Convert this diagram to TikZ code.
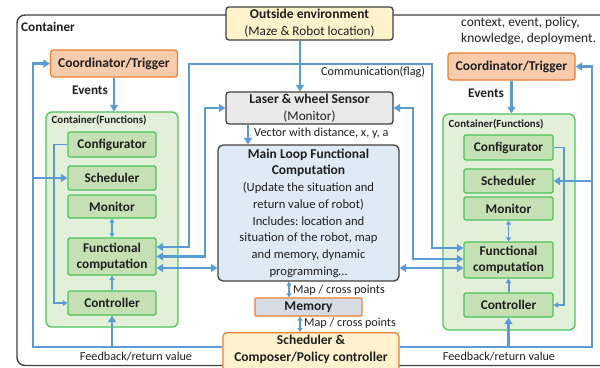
\documentclass[tikz,border=0pt]{standalone}
\usepackage{fontspec}
\setmainfont{Carlito}
\usetikzlibrary{arrows.meta,calc}
\frenchspacing
\definecolor{flowblue}{HTML}{5B9BD5}
\definecolor{darkline}{HTML}{404040}
\definecolor{orangefill}{HTML}{F8CBAD}
\definecolor{orangeline}{HTML}{ED7D31}
\definecolor{creamfill}{HTML}{FFF2CC}
\definecolor{grayfill}{HTML}{E9E9E9}
\definecolor{bluefill}{HTML}{DEEBF7}
\definecolor{memfill}{HTML}{D6DCE5}
\definecolor{greenline}{HTML}{4CC35A}
\definecolor{greenfill}{HTML}{E2F0D9}
\definecolor{greeninner}{HTML}{C5E0B4}
\newcommand{\bigbold}[1]{{\fontsize{13.5}{16.7}\selectfont\bfseries #1}}
\tikzset{
  flow/.style={draw=flowblue, line width=2.4pt},
  arr/.style={flow, -{Triangle[length=6.5pt,width=8pt]}},
  barr/.style={flow, {Triangle[length=6.5pt,width=8pt]}-{Triangle[length=6.5pt,width=8pt]}},
  thinarr/.style={draw=flowblue, line width=1.5pt, -{Triangle[length=4.5pt,width=5.5pt]}},
  thinbarr/.style={draw=flowblue, line width=1.5pt, {Triangle[length=4pt,width=5pt]}-{Triangle[length=4pt,width=5pt]}},
  boxbase/.style={rounded corners=3pt, line width=1.3pt, inner sep=0pt, align=center, text=black!88},
  envbox/.style={boxbase, draw=darkline, fill=creamfill, font=\fontsize{13.2}{17}\selectfont},
  sensorbox/.style={boxbase, draw=darkline, fill=grayfill, font=\fontsize{13.2}{17}\selectfont},
  mainbox/.style={boxbase, rounded corners=5pt, draw=darkline, fill=bluefill, font=\fontsize{12.6}{16.7}\selectfont},
  membox/.style={boxbase, rounded corners=1pt, draw=orangeline, fill=memfill, font=\bfseries\fontsize{13.5}{15}\selectfont},
  policybox/.style={boxbase, rounded corners=4pt, draw=orangeline, fill=creamfill},
  coordbox/.style={boxbase, draw=orangeline, fill=orangefill, font=\bfseries\fontsize{13.5}{15}\selectfont, minimum width=127pt, minimum height=27pt},
  funcbox/.style={boxbase, rounded corners=6pt, draw=greenline, fill=greenfill, minimum width=132pt},
  unitbox/.style={boxbase, rounded corners=1.5pt, draw=greenline, fill=greeninner, font=\bfseries\fontsize{13.3}{16}\selectfont, minimum width=88pt},
  note/.style={inner sep=0pt, text=black!88, font=\fontsize{12.2}{14}\selectfont},
  boldnote/.style={inner sep=0pt, text=black!88, font=\bfseries\fontsize{13.2}{15}\selectfont}
}
\begin{document}
\begin{tikzpicture}[x=1pt,y=-1pt]
\useasboundingbox (0,0) rectangle (600,367);
\clip (0,0) rectangle (600,367);
\fill[white] (0,0) rectangle (600,367);

% outer container frame
\draw[darkline, line width=1.4pt, rounded corners=8pt] (17,15) rectangle (640,365.5);
\node[boldnote, anchor=west] (ctitle) at (21,27) {Container};
\node[note, anchor=west, align=left, font=\fontsize{13.4}{16}\selectfont] (ctxt) at (461,31)
  {context, event, policy,\\knowledge, deployment.};

% central column
\node[envbox, minimum width=167pt, minimum height=33pt] (env) at (309.5,23.5)
  {\bigbold{Outside environment}\\(Maze \& Robot location)};
\node[sensorbox, minimum width=167pt, minimum height=32pt] (sensor) at (309.5,108)
  {\bigbold{Laser \& wheel Sensor}\\(Monitor)};
\node[mainbox, minimum width=181pt, minimum height=136pt] (main) at (308.5,213)
  {\bigbold{Main Loop Functional}\\\bigbold{Computation}\\(Update the situation and\\return value of robot)\\Includes: location and\\situation of the robot, map\\and memory, dynamic\\programming\dots};
\node[membox, minimum width=107pt, minimum height=18pt] (memory) at (308.5,307) {Memory};
\node[policybox, minimum width=176pt, minimum height=50pt, anchor=north] (policy) at (311,332) {};
\node[inner sep=0pt, align=center, text=black!88, font=\bfseries\fontsize{13.5}{17}\selectfont] (policytxt) at (311,349)
  {Scheduler \&\\Composer/Policy controller};

% left side
\node[coordbox] (lcoord) at (114,63.5) {Coordinator/Trigger};
\node[boldnote] (lev) at (90,90) {Events};
\node[funcbox, minimum height=215pt] (lcont) at (112,219.5) {};
\node[inner sep=0pt, anchor=west, text=black!88, font=\bfseries\fontsize{10.9}{12}\selectfont] (lconttitle) at (51.5,120) {Container(Functions)};
\node[unitbox, minimum height=25pt] (lconf) at (112,144.5) {Configurator};
\node[unitbox, minimum height=24pt] (lsch) at (112,178) {Scheduler};
\node[unitbox, minimum height=23pt] (lmon) at (112,206.5) {Monitor};
\node[unitbox, minimum height=37pt] (lfc) at (112,256.5) {Functional\\computation};
\node[unitbox, minimum height=24pt] (lctl) at (112,303) {Controller};

% right side
\node[coordbox] (rcoord) at (511.5,66.5) {Coordinator/Trigger};
\node[boldnote] (rev) at (486,93) {Events};
\node[funcbox, minimum height=216pt] (rcont) at (509,222) {};
\node[inner sep=0pt, anchor=west, text=black!88, font=\bfseries\fontsize{10.9}{12}\selectfont] (rconttitle) at (448.5,124) {Container(Functions)};
\node[unitbox, minimum width=89pt, minimum height=25pt] (rconf) at (508.5,147.5) {Configurator};
\node[unitbox, minimum width=89pt, minimum height=24pt] (rsch) at (508.5,181) {Scheduler};
\node[unitbox, minimum width=89pt, minimum height=23pt] (rmon) at (508.5,208.5) {Monitor};
\node[unitbox, minimum width=89pt, minimum height=36pt] (rfc) at (508.5,260) {Functional\\computation};
\node[unitbox, minimum width=89pt, minimum height=24pt] (rctl) at (508.5,305) {Controller};

% routing points
\coordinate (ea) at (300,0);
\coordinate (sa) at (248,0);
\coordinate (lb) at (33,347);
\coordinate (lt) at (33,63.5);
\coordinate (rb) at (592,347);
\coordinate (rt) at (592,66.5);
\coordinate (lcx) at (54,0);
\coordinate (rcx) at (564,0);
\coordinate (cl) at (189,64);
\coordinate (cr) at (432,64);
\coordinate (ls) at (205,108);
\coordinate (rs) at (413,108);
\coordinate (l1) at ([yshift=9.5pt]lfc.east);
\coordinate (l3) at ([yshift=-11.5pt]lfc.east);
\coordinate (r1) at ([yshift=12pt]rfc.west);
\coordinate (r2) at ([yshift=1pt]rfc.west);
\coordinate (r3) at ([yshift=-8pt]rfc.west);
\coordinate (ma) at (289,0);
\coordinate (pa) at (300,0);

% environment and sensing
\draw[arr] (ea |- env.south) -- (ea |- sensor.north);
\draw[arr] (sa |- sensor.south) -- (sa |- main.north);
\node[note, anchor=west] (vec) at (254,133.5) {Vector with distance, x, y, a};

% memory links
\draw[thinbarr] (ma |- main.south) -- (ma |- memory.north);
\node[note, anchor=west] (map1) at (293,290) {Map / cross points};
\draw[thinbarr] (pa |- memory.south) -- (pa |- policy.north);
\node[note, anchor=west] (map2) at (304,323) {Map / cross points};

% communication between the two containers
\draw[barr] (l1) -| (cl) -- (cr) |- (r1);
\node[note, anchor=west] (comm) at (321,72.5) {Communication(flag)};
\draw[barr] (lfc.east) -| (ls) -- (sensor.west);
\draw[barr] (sensor.east) -- (rs) |- (r2);
\draw[barr] (l3) -- (l3 -| main.west);
\draw[barr] (main.east |- r3) -- (r3);

% left feedback loop
\draw[arr] (policy.west |- lb) -- (lb) -- (lt) -- (lcoord.west);
\draw[arr] (lb |- lsch.west) -- (lsch.west);
\draw[arr] (lctl.south |- lb) -- (lctl.south);
\draw[arr] (lcoord.south) -- (lcoord.south |- lcont.north);
\draw[thinarr] (lconf.west) -- (lcx |- lconf.west) -- (lcx |- lctl.west) -- (lctl.west);
\draw[thinbarr] (lmon.south) -- (lfc.north);
\draw[thinarr, line width=2pt] (lctl.north) -- (lfc.south);
\node[note] (lfb) at (136,356.5) {Feedback/return value};

% right feedback loop
\draw[arr] (policy.east |- rb) -- (rb) -- (rt) -- (rcoord.east);
\draw[arr] (rb |- rsch.east) -- (rsch.east);
\draw[arr] (rctl.south |- rb) -- (rctl.south);
\draw[arr] (rcoord.south) -- (rcoord.south |- rcont.north);
\draw[thinarr] (rconf.east) -- (rcx |- rconf.east) -- (rcx |- rctl.east) -- (rctl.east);
\draw[thinbarr] (rmon.south) -- (rfc.north);
\draw[thinarr, line width=2pt] (rctl.north) -- (rfc.south);
\node[note] (rfb) at (499,357) {Feedback/return value};
\end{tikzpicture}
\end{document}
